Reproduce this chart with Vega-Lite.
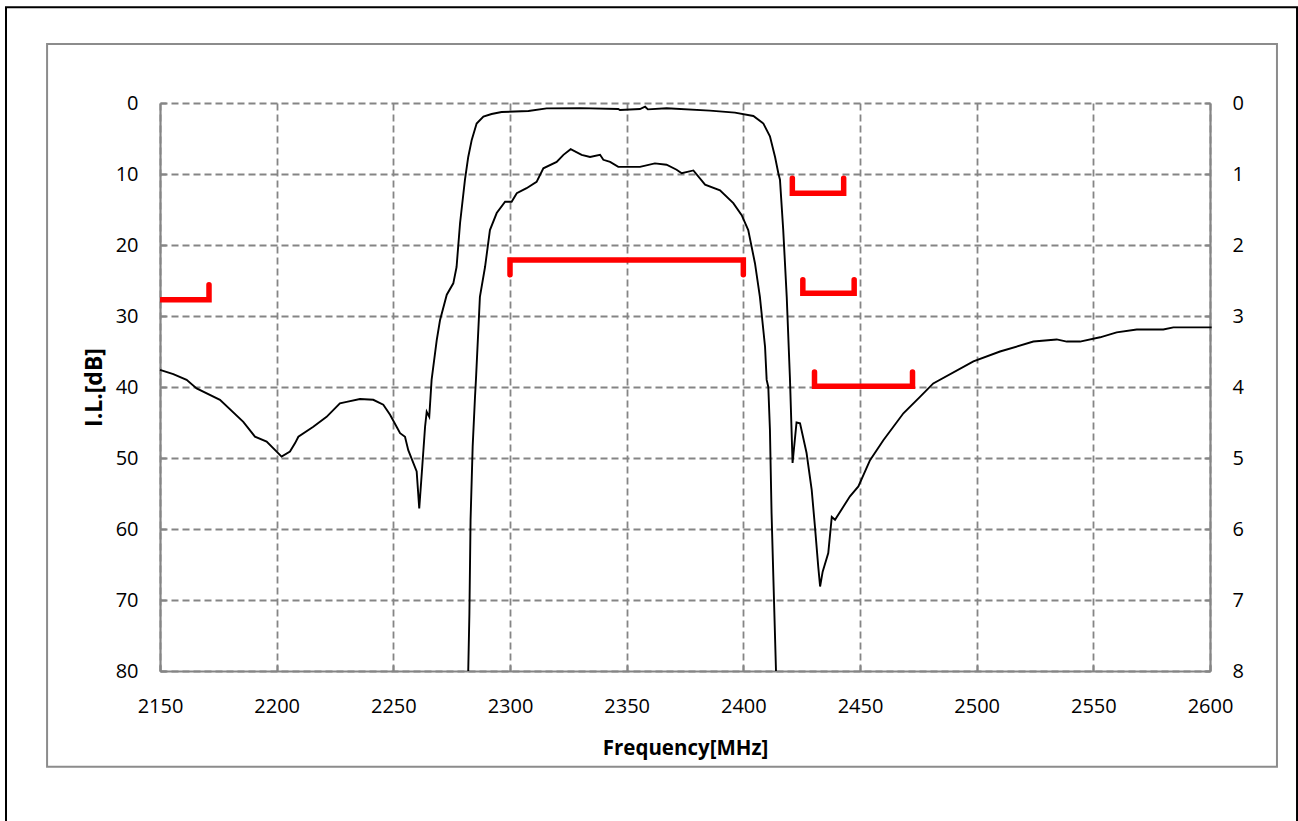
{
  "$schema": "https://vega.github.io/schema/vega-lite/v6.json",
  "width": 1050,
  "height": 568,
  "autosize": {"type": "none"},
  "padding": {"left": 160, "top": 103, "right": 88, "bottom": 150},
  "background": "white",
  "datasets": {
    "rejection": [
      {"f": 2150, "v": 37.6}, {"f": 2155.7, "v": 38.2}, {"f": 2161.4, "v": 39.0}, {"f": 2165.7, "v": 40.2},
      {"f": 2175.7, "v": 41.8}, {"f": 2185.7, "v": 44.9}, {"f": 2190.7, "v": 47.0}, {"f": 2195.7, "v": 47.7},
      {"f": 2200, "v": 49.1}, {"f": 2202.1, "v": 49.8}, {"f": 2205.7, "v": 49.1}, {"f": 2207.9, "v": 47.9},
      {"f": 2209.3, "v": 47.0}, {"f": 2215.7, "v": 45.6}, {"f": 2221.4, "v": 44.2}, {"f": 2227.1, "v": 42.3},
      {"f": 2230, "v": 42.1}, {"f": 2235.7, "v": 41.7}, {"f": 2241.4, "v": 41.8}, {"f": 2245.7, "v": 42.5},
      {"f": 2248.6, "v": 43.9}, {"f": 2251.4, "v": 45.6}, {"f": 2252.9, "v": 46.5}, {"f": 2255, "v": 47.0},
      {"f": 2256.4, "v": 48.9}, {"f": 2260, "v": 51.9}, {"f": 2261.1, "v": 57.1}, {"f": 2262.4, "v": 51.2},
      {"f": 2263.6, "v": 45.6}, {"f": 2264.3, "v": 43.5}, {"f": 2265.4, "v": 44.2}, {"f": 2266.4, "v": 39.0},
      {"f": 2268.6, "v": 33.4}, {"f": 2270, "v": 30.6}, {"f": 2272.9, "v": 27.0}, {"f": 2275.7, "v": 25.4},
      {"f": 2277.1, "v": 23.1}, {"f": 2278.6, "v": 16.9}, {"f": 2280.7, "v": 10.8}, {"f": 2282.1, "v": 7.6},
      {"f": 2283.6, "v": 5.2}, {"f": 2285.7, "v": 2.9}, {"f": 2288.6, "v": 1.9}, {"f": 2292.1, "v": 1.55},
      {"f": 2296.4, "v": 1.27}, {"f": 2307.9, "v": 1.13}, {"f": 2315.7, "v": 0.75}, {"f": 2330, "v": 0.72},
      {"f": 2346.4, "v": 0.85}, {"f": 2347.1, "v": 0.99}, {"f": 2355.7, "v": 0.85}, {"f": 2357.9, "v": 0.52},
      {"f": 2359.1, "v": 0.9}, {"f": 2367.1, "v": 0.75}, {"f": 2385.7, "v": 1.08}, {"f": 2396.4, "v": 1.36},
      {"f": 2404.3, "v": 1.83}, {"f": 2408.6, "v": 2.9}, {"f": 2411.4, "v": 4.7}, {"f": 2413.6, "v": 7.6},
      {"f": 2415, "v": 9.9}, {"f": 2415.7, "v": 10.8}, {"f": 2417.1, "v": 17.9}, {"f": 2418.6, "v": 27.3},
      {"f": 2420, "v": 39.0}, {"f": 2421.1, "v": 50.7}, {"f": 2422.8, "v": 45.0}, {"f": 2424.3, "v": 45.1},
      {"f": 2427.1, "v": 49.3}, {"f": 2429.3, "v": 54.5}, {"f": 2430.7, "v": 59.7}, {"f": 2432.1, "v": 65.3},
      {"f": 2432.9, "v": 68.1}, {"f": 2434, "v": 66.0}, {"f": 2436.4, "v": 63.4}, {"f": 2437.9, "v": 58.3},
      {"f": 2439.3, "v": 58.7}, {"f": 2445.7, "v": 55.4}, {"f": 2449.3, "v": 54.0}, {"f": 2454.3, "v": 50.3},
      {"f": 2460, "v": 47.5}, {"f": 2468.6, "v": 43.7}, {"f": 2475.7, "v": 41.4}, {"f": 2481.4, "v": 39.5},
      {"f": 2498.6, "v": 36.4}, {"f": 2510, "v": 35.0}, {"f": 2524.3, "v": 33.6}, {"f": 2534.3, "v": 33.3},
      {"f": 2538.6, "v": 33.6}, {"f": 2544.3, "v": 33.6}, {"f": 2552.9, "v": 33.0}, {"f": 2560, "v": 32.3},
      {"f": 2568.6, "v": 31.9}, {"f": 2580, "v": 31.9}, {"f": 2584.3, "v": 31.6}, {"f": 2600.7, "v": 31.6}
    ],
    "insertion": [
      {"f": 2282.1, "v": 8.0}, {"f": 2282.6, "v": 7.19}, {"f": 2283.1, "v": 5.87}, {"f": 2284, "v": 4.84},
      {"f": 2285, "v": 4.14}, {"f": 2285.4, "v": 3.9}, {"f": 2287.1, "v": 2.73}, {"f": 2289.3, "v": 2.31},
      {"f": 2291.4, "v": 1.79}, {"f": 2294.3, "v": 1.55}, {"f": 2297.9, "v": 1.39}, {"f": 2300.7, "v": 1.39},
      {"f": 2302.9, "v": 1.27}, {"f": 2307.1, "v": 1.2}, {"f": 2311.4, "v": 1.11}, {"f": 2314.3, "v": 0.92},
      {"f": 2320, "v": 0.83}, {"f": 2322.9, "v": 0.73}, {"f": 2326, "v": 0.65}, {"f": 2330.7, "v": 0.73},
      {"f": 2334.3, "v": 0.76}, {"f": 2338.6, "v": 0.73}, {"f": 2340, "v": 0.8}, {"f": 2342.9, "v": 0.83},
      {"f": 2346.4, "v": 0.9}, {"f": 2355.7, "v": 0.9}, {"f": 2362.1, "v": 0.85}, {"f": 2367.1, "v": 0.87},
      {"f": 2371.4, "v": 0.94}, {"f": 2373.6, "v": 0.99}, {"f": 2378.6, "v": 0.95}, {"f": 2383.6, "v": 1.15},
      {"f": 2390, "v": 1.23}, {"f": 2395.7, "v": 1.41}, {"f": 2399.3, "v": 1.58}, {"f": 2402.1, "v": 1.79},
      {"f": 2405, "v": 2.26}, {"f": 2407.1, "v": 2.73}, {"f": 2409.3, "v": 3.43}, {"f": 2410, "v": 3.9},
      {"f": 2410.7, "v": 4.0}, {"f": 2411.4, "v": 4.6}, {"f": 2412.1, "v": 5.78}, {"f": 2412.9, "v": 6.72},
      {"f": 2414, "v": 8.0}
    ],
    "rejectionMasks": [
      {"mask": "A", "i": 1, "f": 2145, "v": 27.7}, {"mask": "A", "i": 2, "f": 2171, "v": 27.7}, {"mask": "A", "i": 3, "f": 2171, "v": 25.6},
      {"mask": "B", "i": 1, "f": 2421, "v": 10.6}, {"mask": "B", "i": 2, "f": 2421, "v": 12.7}, {"mask": "B", "i": 3, "f": 2443, "v": 12.7}, {"mask": "B", "i": 4, "f": 2443, "v": 10.6},
      {"mask": "C", "i": 1, "f": 2425.5, "v": 24.9}, {"mask": "C", "i": 2, "f": 2425.5, "v": 26.8}, {"mask": "C", "i": 3, "f": 2447.5, "v": 26.8}, {"mask": "C", "i": 4, "f": 2447.5, "v": 24.9},
      {"mask": "D", "i": 1, "f": 2430.5, "v": 37.9}, {"mask": "D", "i": 2, "f": 2430.5, "v": 39.9}, {"mask": "D", "i": 3, "f": 2472.5, "v": 39.9}, {"mask": "D", "i": 4, "f": 2472.5, "v": 37.9}
    ],
    "passbandMask": [
      {"mask": "P", "i": 1, "f": 2300, "v": 2.42}, {"mask": "P", "i": 2, "f": 2300, "v": 2.21},
      {"mask": "P", "i": 3, "f": 2400, "v": 2.21}, {"mask": "P", "i": 4, "f": 2400, "v": 2.42}
    ]
  },
  "layer": [
    {
      "data": {"name": "rejection"},
      "mark": {"type": "line", "color": "#000000", "strokeWidth": 1.9, "clip": false},
      "encoding": {
        "x": {
          "field": "f", "type": "quantitative",
          "scale": {"domain": [2150, 2600], "nice": false, "zero": false},
          "axis": {"values": [2150, 2200, 2250, 2300, 2350, 2400, 2450, 2500, 2550, 2600], "format": "d", "title": "Frequency[MHz]", "grid": true}
        },
        "y": {
          "field": "v", "type": "quantitative",
          "scale": {"domain": [0, 80], "reverse": true, "nice": false, "zero": false},
          "axis": {"orient": "left", "values": [0, 10, 20, 30, 40, 50, 60, 70, 80], "format": "d", "title": "I.L.[dB]", "grid": true}
        }
      }
    },
    {
      "data": {"name": "insertion"},
      "mark": {"type": "line", "color": "#000000", "strokeWidth": 1.9, "clip": true},
      "encoding": {
        "x": {"field": "f", "type": "quantitative", "scale": {"domain": [2150, 2600], "nice": false, "zero": false}},
        "y": {
          "field": "v", "type": "quantitative",
          "scale": {"domain": [0, 8], "reverse": true, "nice": false, "zero": false},
          "axis": {"orient": "right", "values": [0, 1, 2, 3, 4, 5, 6, 7, 8], "format": "d", "title": null, "grid": false}
        }
      }
    },
    {
      "data": {"name": "rejectionMasks"},
      "mark": {"type": "line", "color": "#ff0000", "strokeWidth": 5.5, "strokeCap": "round", "strokeJoin": "miter", "clip": true},
      "encoding": {
        "x": {"field": "f", "type": "quantitative", "scale": {"domain": [2150, 2600], "nice": false, "zero": false}},
        "y": {"field": "v", "type": "quantitative", "scale": {"domain": [0, 80], "reverse": true, "nice": false, "zero": false}, "axis": null},
        "detail": {"field": "mask"},
        "order": {"field": "i", "type": "quantitative"}
      }
    },
    {
      "data": {"name": "passbandMask"},
      "mark": {"type": "line", "color": "#ff0000", "strokeWidth": 5.5, "strokeCap": "round", "strokeJoin": "miter"},
      "encoding": {
        "x": {"field": "f", "type": "quantitative", "scale": {"domain": [2150, 2600], "nice": false, "zero": false}},
        "y": {"field": "v", "type": "quantitative", "scale": {"domain": [0, 8], "reverse": true, "nice": false, "zero": false}, "axis": null},
        "detail": {"field": "mask"},
        "order": {"field": "i", "type": "quantitative"}
      }
    },
    {
      "data": {"values": [{"frame": "outer"}]},
      "mark": {"type": "rect", "fillOpacity": 0, "stroke": "#000000", "strokeWidth": 2, "clip": false},
      "encoding": {
        "x": {"datum": 2084.0, "type": "quantitative", "scale": {"domain": [2150, 2600], "nice": false, "zero": false}},
        "x2": {"datum": 2637.3},
        "y": {"datum": -13.5, "type": "quantitative", "scale": {"domain": [0, 80], "reverse": true, "nice": false, "zero": false}, "axis": null},
        "y2": {"datum": 102.4}
      }
    },
    {
      "data": {"values": [{"frame": "chart"}]},
      "mark": {"type": "rect", "fillOpacity": 0, "stroke": "#8c8c8c", "strokeWidth": 2, "clip": false},
      "encoding": {
        "x": {"datum": 2101.6, "type": "quantitative", "scale": {"domain": [2150, 2600], "nice": false, "zero": false}},
        "x2": {"datum": 2628.7},
        "y": {"datum": -8.3, "type": "quantitative", "scale": {"domain": [0, 80], "reverse": true, "nice": false, "zero": false}, "axis": null},
        "y2": {"datum": 93.5}
      }
    }
  ],
  "resolve": {"scale": {"y": "independent"}, "axis": {"y": "independent"}},
  "config": {
    "view": {"stroke": null},
    "axis": {
      "labelFont": "Open Sans",
      "labelFontSize": 20,
      "labelColor": "#000000",
      "labelFlush": false,
      "labelOverlap": false,
      "titleFont": "Open Sans",
      "titleFontSize": 20.5,
      "titleFontWeight": "bold",
      "titleColor": "#000000",
      "domainColor": "#858585",
      "domainWidth": 2.2,
      "tickColor": "#858585",
      "tickWidth": 2,
      "tickSize": -6,
      "gridColor": "#858585",
      "gridDash": [7, 4],
      "gridWidth": 1.8
    },
    "axisBottom": {"labelPadding": 31, "titlePadding": 22},
    "axisLeft": {"labelPadding": 28, "titlePadding": 9, "titleFontSize": 23},
    "axisRight": {"labelPadding": 28}
  }
}
